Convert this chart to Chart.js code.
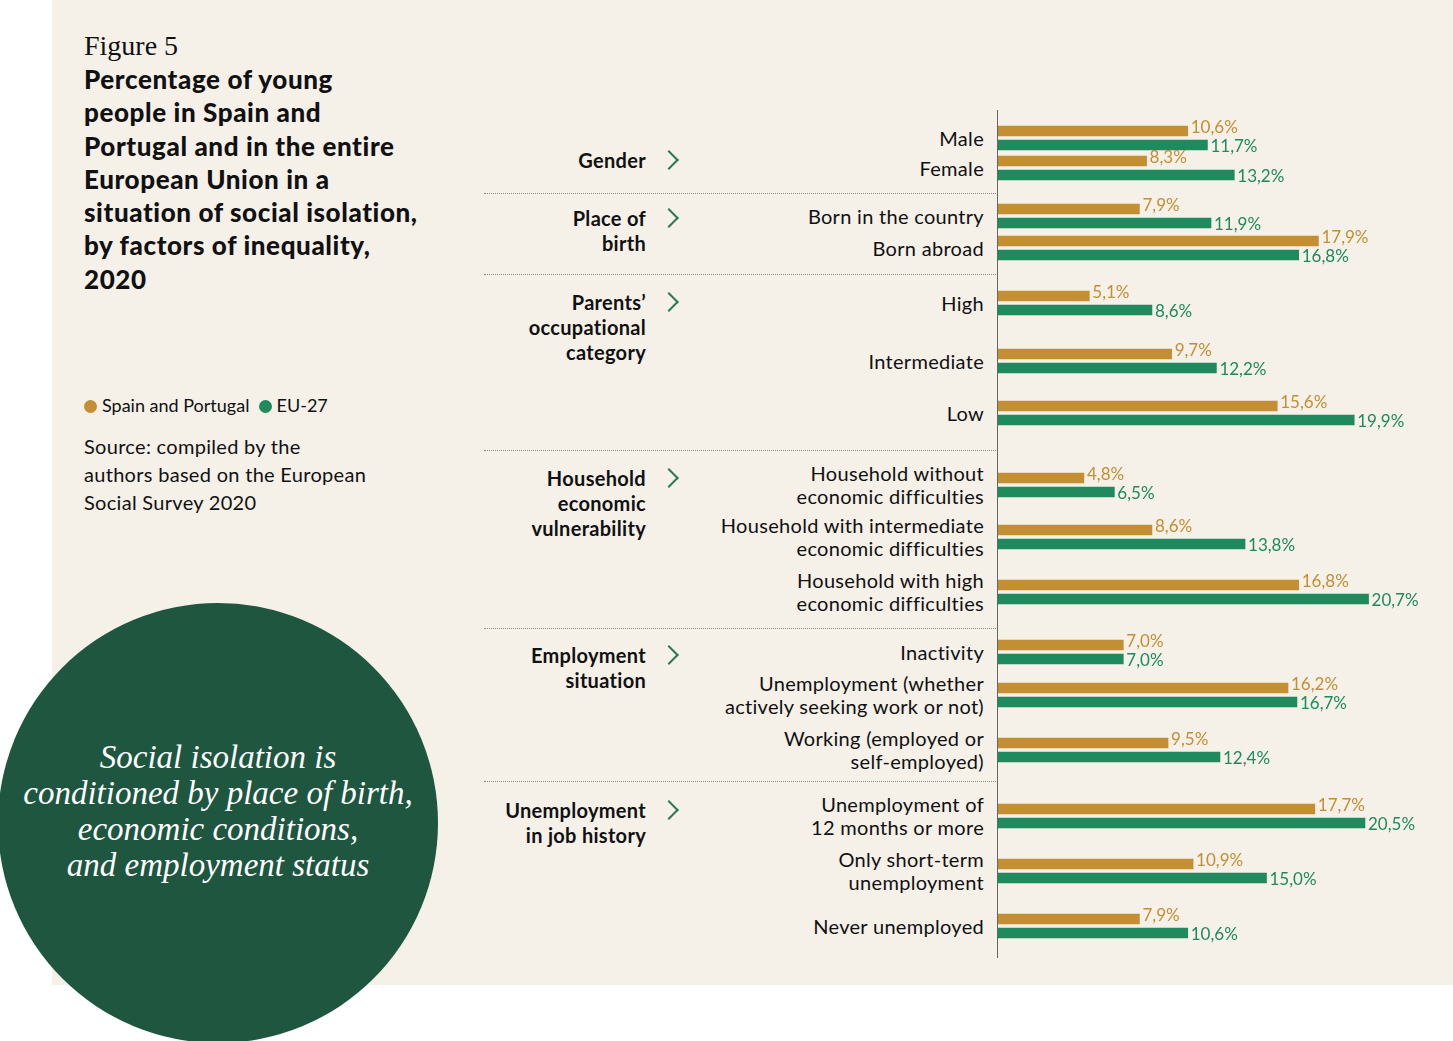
<!DOCTYPE html>
<html><head><meta charset="utf-8">
<script src="https://cdn.jsdelivr.net/npm/chart.js@4"></script>
<style>
body{margin:0;width:1453px;height:1041px;background:#fff;position:relative;overflow:hidden;font-family:Lato,"Open Sans",sans-serif;color:#111}
#panel{position:absolute;left:52px;top:0;width:1401px;height:985px;background:#f5f0e8}
.abs{position:absolute}
#fig{left:84px;top:30px;font-size:28px;font-family:"Liberation Serif",serif}
#title{left:84px;top:63px;font-weight:900;font-size:26px;line-height:33.3px;width:400px;letter-spacing:0.6px;white-space:nowrap}
#legend{left:84px;top:394px;font-size:18px}
.dot{display:inline-block;width:13px;height:13px;border-radius:50%;vertical-align:-1px;margin-right:5px}
#source{left:84px;top:432px;font-size:20px;line-height:28px;white-space:nowrap;letter-spacing:0.3px}
#circle{left:-2px;top:603px;width:440px;height:440px;border-radius:50%;background:#1e5640}
#ctext{left:-2px;top:739px;width:440px;text-align:center;color:#fff;font-family:"Liberation Serif",serif;font-style:italic;font-size:33px;line-height:36px}
.cat{position:absolute;right:469px;text-align:right;font-size:20px;line-height:23px;white-space:nowrap;letter-spacing:0.3px}
.grp{position:absolute;right:807px;text-align:right;font-size:20px;font-weight:bold;line-height:25px;white-space:nowrap;letter-spacing:0.3px}
.chev{position:absolute;left:662px;width:12px;height:12px;border-right:2px solid #2a7a55;border-top:2px solid #2a7a55;transform:rotate(45deg)}
.sep{position:absolute;left:484px;width:514px;border-top:1px dotted #888}
#axis{left:997px;top:110px;width:1px;height:848px;background:#666}
#wrap{position:absolute;left:998px;top:0;width:455px;height:1041px}
</style></head><body>
<div id="panel"></div>
<div class="abs" id="fig">Figure 5</div>
<div class="abs" id="title">Percentage of young<br>people in Spain and<br>Portugal and in the entire<br>European Union in a<br>situation of social isolation,<br>by factors of inequality,<br>2020</div>
<div class="abs" id="legend"><span class="dot" style="background:#c38f32"></span>Spain and Portugal &nbsp;<span class="dot" style="background:#1e8a5e"></span>EU-27</div>
<div class="abs" id="source">Source: compiled by the<br>authors based on the European<br>Social Survey 2020</div>
<div class="abs" id="circle"></div>
<div class="abs" id="ctext">Social isolation is<br>conditioned by place of birth,<br>economic conditions,<br>and employment status</div>
<div id="labels"></div>
<div class="abs" id="axis"></div>
<div id="wrap"><canvas id="c"></canvas></div>
<script>
// =====================
// DATA
// =====================
const categories = [
  "Male", "Female",
  "Born in the country", "Born abroad",
  "High", "Intermediate", "Low",
  "Household without\neconomic difficulties", "Household with intermediate\neconomic difficulties", "Household with high\neconomic difficulties",
  "Inactivity", "Unemployment (whether\nactively seeking work or not)", "Working (employed or\nself-employed)",
  "Unemployment of\n12 months or more", "Only short-term\nunemployment", "Never unemployed"
];
const spainPortugal = [10.6, 8.3, 7.9, 17.9, 5.1, 9.7, 15.6, 4.8, 8.6, 16.8, 7.0, 16.2, 9.5, 17.7, 10.9, 7.9];
const eu27 = [11.7, 13.2, 11.9, 16.8, 8.6, 12.2, 19.9, 6.5, 13.8, 20.7, 7.0, 16.7, 12.4, 20.5, 15.0, 10.6];
const groups = ["Gender", "Place of\nbirth", "Parents’\noccupational\ncategory", "Household\neconomic\nvulnerability", "Employment\nsituation", "Unemployment\nin job history"];

// layout (pixel rows, not data)
const rowY = [131, 161, 209, 241, 296, 354, 406, 478, 530, 585, 645, 688, 743, 809, 864, 919];
const groupTop = [148, 206, 290, 466, 643, 798];
const sepY = [193, 274, 450, 628, 781];
const ORANGE = "#c38f32", GREEN = "#1e8a5e";

// =====================
// HTML LABELS
// =====================
const lab = document.getElementById("labels");
categories.forEach((c, i) => {
  const n = c.split("\n").length;
  const d = document.createElement("div");
  d.className = "cat";
  d.style.top = (rowY[i] + 7 - n * 11.5) + "px";
  d.innerHTML = c.replace(/\n/g, "<br>");
  lab.appendChild(d);
});
groups.forEach((g, i) => {
  const d = document.createElement("div");
  d.className = "grp";
  d.style.top = groupTop[i] + "px";
  d.innerHTML = g.replace(/\n/g, "<br>");
  lab.appendChild(d);
  const ch = document.createElement("div");
  ch.className = "chev";
  ch.style.top = (groupTop[i] + 5) + "px";
  lab.appendChild(ch);
});
sepY.forEach(y => {
  const d = document.createElement("div");
  d.className = "sep";
  d.style.top = y + "px";
  lab.appendChild(d);
});

// =====================
// CHART
// =====================
const valueLabels = {
  id: "valueLabels",
  afterDatasetsDraw(chart) {
    const ctx = chart.ctx;
    ctx.save();
    ctx.font = "17px Lato, sans-serif";
    ctx.textBaseline = "middle";
    chart.data.datasets.forEach((ds, di) => {
      chart.getDatasetMeta(di).data.forEach((bar, i) => {
        ctx.fillStyle = ds.backgroundColor;
        const txt = ds.data[i].x.toFixed(1).replace(".", ",") + "%";
        ctx.fillText(txt, bar.x + 3, bar.y + (di === 0 ? -3 : 2));
      });
    });
    ctx.restore();
  }
};

new Chart(document.getElementById("c"), {
  type: "bar",
  data: {
    datasets: [
      { label: "Spain and Portugal", data: spainPortugal.map((v, i) => ({ x: v, y: rowY[i] })), backgroundColor: ORANGE },
      { label: "EU-27", data: eu27.map((v, i) => ({ x: v, y: rowY[i] + 14 })), backgroundColor: GREEN }
    ]
  },
  options: {
    indexAxis: "y",
    responsive: true,
    maintainAspectRatio: false,
    animation: false,
    grouped: false,
    barThickness: 10,
    layout: { padding: 0 },
    scales: {
      x: { type: "linear", min: 0, max: 455 / 17.9, display: false },
      y: { type: "linear", min: 0, max: 1041, reverse: true, offset: false, display: false }
    },
    plugins: { legend: { display: false }, tooltip: { enabled: false } }
  },
  plugins: [valueLabels]
});
</script>
</body></html>
